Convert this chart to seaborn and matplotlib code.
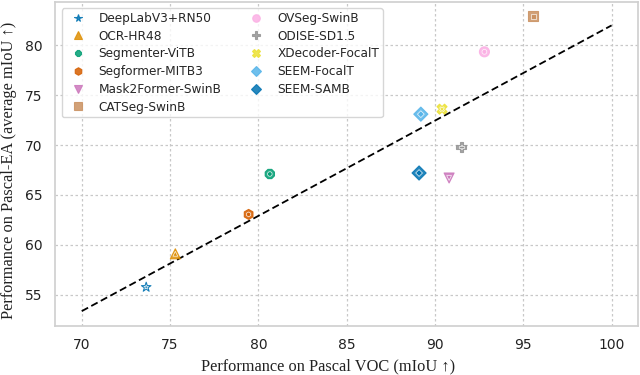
import matplotlib
matplotlib.use("Agg")
import matplotlib.pyplot as plt
import seaborn as sns
import pandas as pd

models = ["DeepLabV3+RN50", "OCR-HR48", "Segmenter-ViTB", "Segformer-MITB3",
          "Mask2Former-SwinB", "CATSeg-SwinB", "OVSeg-SwinB", "ODISE-SD1.5",
          "XDecoder-FocalT", "SEEM-FocalT", "SEEM-SAMB"]
voc = [73.65, 75.3, 80.65, 79.45, 90.8, 95.57, 92.8, 91.5, 90.4, 89.2, 89.1]
ea = [55.75, 59.1, 67.1, 63.05, 66.7, 82.9, 79.35, 69.8, 73.6, 73.1, 67.2]
marker_list = ["*", "^", "8", "h", "v", "s", "o", "P", "X", "D", "D"]
palette_list = sns.color_palette("colorblind", 10)
colors = [palette_list[i % 10] for i in range(len(models))]

fit_x = [70, 100]
fit_y = [53.35, 82.0]

df = pd.DataFrame({"model": models, "voc": voc, "ea": ea})
line_df = pd.DataFrame({"x": fit_x, "y": fit_y})

sns.set_theme(style="whitegrid", rc={
    "grid.linestyle": (0, (2, 2)),
    "grid.color": "#c8c8c8",
    "grid.linewidth": 0.9,
    "axes.edgecolor": "#d0d0d0",
    "xtick.color": "#222222",
    "ytick.color": "#222222",
})
plt.rcParams["font.family"] = ["DejaVu Sans"]

fig = plt.figure(figsize=(6.4, 3.75), dpi=100)
ax = fig.add_axes([0.0863, 0.131, 0.9107, 0.8645])

pal = dict(zip(models, colors))
mk = dict(zip(models, marker_list))

sns.lineplot(data=line_df, x="x", y="y", ax=ax, color="black",
             linestyle=(0, (4, 2)), linewidth=1.3, zorder=2)

sns.scatterplot(data=df, x="voc", y="ea", hue="model", style="model",
                palette=pal, markers=mk, s=52, ax=ax, zorder=3,
                edgecolor="face", linewidth=0.8, alpha=0.85)
# inner highlight to mimic patterned markers
sns.scatterplot(data=df, x="voc", y="ea", hue="model", style="model",
                palette=pal, markers=mk, s=12, ax=ax, zorder=4,
                edgecolor="white", linewidth=0.5, legend=False, alpha=0.9)

ax.set_xticks([70, 75, 80, 85, 90, 95, 100])
ax.set_yticks([55, 60, 65, 70, 75, 80])
ax.tick_params(labelsize=10, pad=3)

serif = ["Liberation Serif", "DejaVu Serif"]
ax.set_xlabel("Performance on Pascal VOC (mIoU \u2191)", family=serif,
              fontsize=11.8, labelpad=4, color="#222222")
ax.set_ylabel("Performance on Pascal-EA (average mIoU \u2191)", family=serif,
              fontsize=11.8, labelpad=6, color="#222222")
ax.xaxis.label.set_x(0.468)
ax.yaxis.label.set_y(0.481)

leg = ax.legend(loc="upper left", ncol=2, fontsize=8.7, frameon=True,
                bbox_to_anchor=(0.0, 1.0), borderaxespad=0.55, borderpad=0.3,
                labelspacing=0.39, handletextpad=0.75, columnspacing=1.85,
                handlelength=2.0, markerscale=0.75)
leg.get_frame().set_edgecolor("#cccccc")

fig.savefig("out.png", dpi=100)
